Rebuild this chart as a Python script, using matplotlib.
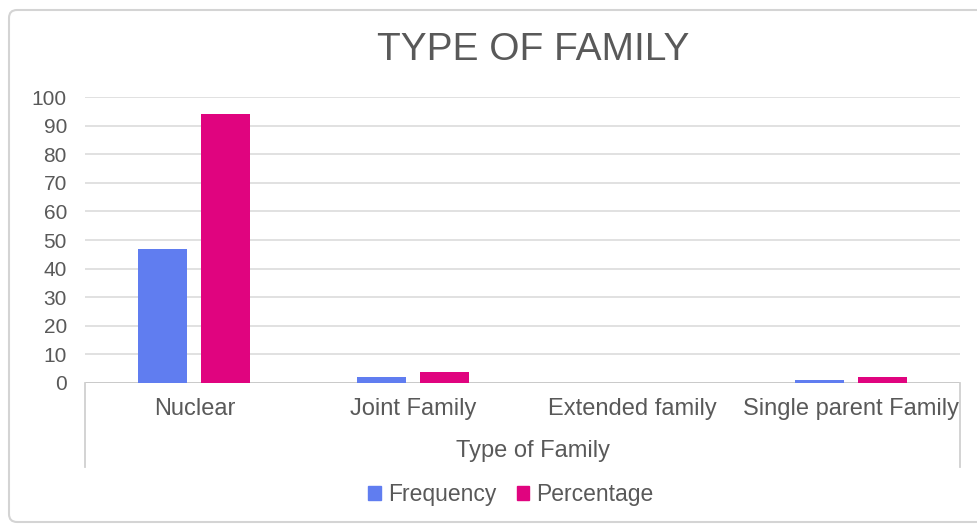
import matplotlib
matplotlib.use('Agg')
import matplotlib.pyplot as plt
import matplotlib.patches as mpatches
import matplotlib.transforms as mtransforms
import numpy as np

plt.rcParams['font.family'] = ['Liberation Sans', 'DejaVu Sans']

categories = ['Nuclear', 'Joint Family', 'Extended family', 'Single parent Family']
frequency = [47, 2, 0, 1]
percentage = [94, 4, 0, 2]
series_names = ['Frequency', 'Percentage']
yticks = [0, 10, 20, 30, 40, 50, 60, 70, 80, 90, 100]

text_color = '#595959'
blue = '#607DF0'
pink = '#E0047F'

W, H = 977, 524
fig = plt.figure(figsize=(W / 100, H / 100), dpi=100)

# rounded chart border, kept behind the axes
frame = mpatches.FancyBboxPatch((9, 2), 990, 512,
                                boxstyle='round,pad=0,rounding_size=8',
                                transform=mtransforms.IdentityTransform(),
                                facecolor='white', edgecolor='#d4d4d4',
                                linewidth=1.5, zorder=-1)
fig.patches.append(frame)

ax = fig.add_axes([85 / W, 1 - 383 / H, 875 / W, 286 / H])
ax.patch.set_alpha(0)
x = np.arange(len(categories))
bw = 0.224
off = 0.144
ax.bar(x - off, frequency, bw, color=blue, label=series_names[0], zorder=3)
ax.bar(x + off, percentage, bw, color=pink, label=series_names[1], zorder=3)

ax.set_xlim(-0.5, len(categories) - 0.5)
ax.set_ylim(0, 100)
ax.set_yticks(yticks)
ax.set_yticklabels([str(v) for v in yticks])
ax.yaxis.grid(True, color='#dcdcdc', linewidth=1.2, zorder=0)
ax.set_axisbelow(True)
for s in ax.spines.values():
    s.set_visible(False)
ax.tick_params(axis='both', length=0, colors=text_color, labelsize=15)
ax.tick_params(axis='y', pad=13)
ax.set_xticks(x)
ax.set_xticklabels(categories, fontsize=17)
ax.tick_params(axis='x', pad=11)

# box around category labels
ax.axhline(0, color='#c8c8c8', linewidth=1.3, zorder=2)
for xv in (-0.5, len(categories) - 0.5):
    ax.plot([xv, xv], [0, -0.295], color='#d0d0d0', linewidth=1.3,
            transform=mtransforms.blended_transform_factory(ax.transData, ax.transAxes),
            clip_on=False)

ax.set_xlabel('Type of Family', fontsize=17, color=text_color, labelpad=14)
ax.xaxis.label.set_x((533 - 85) / 875)

fig.text(533 / W, 1 - 50 / H, 'TYPE OF FAMILY', ha='center', va='center',
         fontsize=28, color=text_color)

handles = [mpatches.Patch(color=blue), mpatches.Patch(color=pink)]
fig.legend(handles, series_names, loc='center', bbox_to_anchor=(511 / W, 1 - 495 / H),
           ncol=2, frameon=False, fontsize=16.5, handlelength=0.55, handleheight=0.55,
           handletextpad=0.3, columnspacing=0.9, labelcolor=text_color)

fig.savefig('out.png', dpi=100)
